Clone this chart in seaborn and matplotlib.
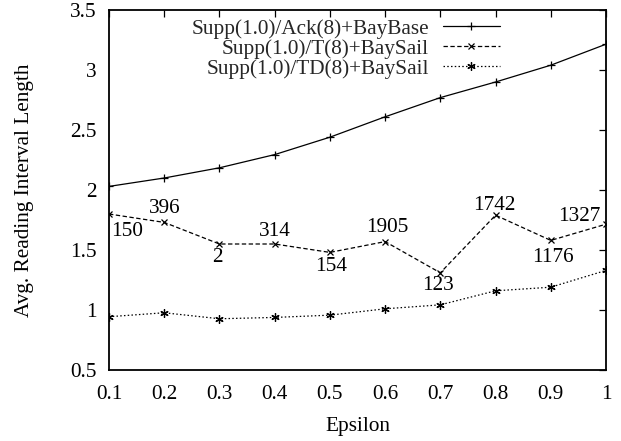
import matplotlib
matplotlib.use("Agg")
import matplotlib.pyplot as plt
import seaborn as sns
from matplotlib.ticker import FuncFormatter, FixedLocator

eps = [0.1, 0.2, 0.3, 0.4, 0.5, 0.6, 0.7, 0.8, 0.9, 1.0]
base = [2.03, 2.10, 2.185, 2.295, 2.44, 2.61, 2.77, 2.90, 3.04, 3.215]
t_sail = [1.80, 1.73, 1.55, 1.55, 1.48, 1.57, 1.31, 1.79, 1.58, 1.715]
td_sail = [0.944, 0.977, 0.927, 0.938, 0.957, 1.01, 1.043, 1.16, 1.19, 1.33]
t_labels = ['150', '396', '2', '314', '154', '1905', '123', '1742', '1176', '1327']
series_names = ['Supp(1.0)/Ack(8)+BayBase', 'Supp(1.0)/T(8)+BaySail', 'Supp(1.0)/TD(8)+BaySail']
xticks = [0.1, 0.2, 0.3, 0.4, 0.5, 0.6, 0.7, 0.8, 0.9, 1.0]
yticks = [0.5, 1.0, 1.5, 2.0, 2.5, 3.0, 3.5]

sns.set_theme(style='white')
plt.rcParams['font.family'] = ['Liberation Serif', 'DejaVu Serif']
FS = 15.3

fig = plt.figure(figsize=(6.21, 4.41), dpi=100)
ax = fig.add_axes([109/621, 1-370/441, 497/621, 360/441])

common = dict(ax=ax, color='black', linewidth=0.9, markeredgecolor='black',
              markerfacecolor='black', markeredgewidth=0.9, markersize=6)
sns.lineplot(x=eps, y=base, marker='+', linestyle='-', label=series_names[0], **common)
sns.lineplot(x=eps, y=t_sail, marker='x', linestyle=(0, (3.5, 2)), label=series_names[1],
             **{**common, 'markersize': 5})
sns.lineplot(x=eps, y=td_sail, marker=(6, 2, 0), linestyle=(0, (1.2, 1.8)), label=series_names[2], **common)

# annotation offsets in pixels (dx, dy with positive dy downward)
offs = [(18, 18), (1, -14), (-2, 14), (0, -12), (1, 14), (2, -14), (-2, 13), (-1, -10), (2, 17), (-27, -8)]
for x, y, lab, (dx, dy) in zip(eps, t_sail, t_labels, offs):
    ax.annotate(lab, xy=(x, y), xytext=(dx*0.72, -dy*0.72), textcoords='offset points',
                ha='center', va='center', fontsize=FS, color='black')

ax.set_xlim(0.1, 1.0)
ax.set_ylim(0.5, 3.5)
ax.xaxis.set_major_locator(FixedLocator(xticks))
ax.yaxis.set_major_locator(FixedLocator(yticks))
fmt = FuncFormatter(lambda v, p: '%g' % v)
ax.xaxis.set_major_formatter(fmt)
ax.yaxis.set_major_formatter(fmt)
ax.tick_params(direction='in', length=5, width=0.9, top=True, right=True,
               labelsize=FS, colors='black')
ax.tick_params(axis='x', pad=11)
ax.tick_params(axis='y', pad=9)
for s in ax.spines.values():
    s.set_color('black')
    s.set_linewidth(1.3)
ax.set_xlabel('Epsilon', fontsize=FS, color='black', labelpad=9)
ax.set_ylabel('Avg. Reading Interval Length', fontsize=FS, color='black', labelpad=26)

handles, labels = ax.get_legend_handles_labels()
ax.legend(handles, labels, loc='upper right', bbox_to_anchor=(0.787, 0.975), frameon=False,
          markerfirst=False, numpoints=1, fontsize=FS, handlelength=2.7, handletextpad=0.65,
          labelspacing=0.0, borderpad=0, borderaxespad=0)

fig.savefig('out.png', dpi=100)
